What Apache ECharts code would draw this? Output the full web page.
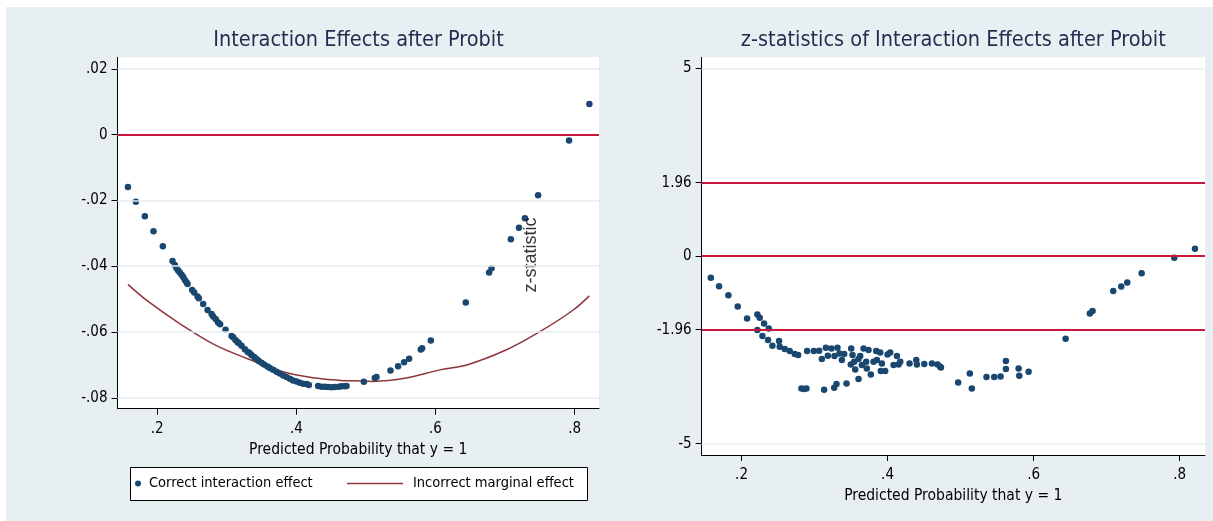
<!DOCTYPE html>
<html><head><meta charset="utf-8">
<script src="https://cdn.jsdelivr.net/npm/echarts@6/dist/echarts.min.js"></script>
<style>
html,body{margin:0;padding:0;background:#fff;}
#wrap{position:relative;width:1213px;height:521px;overflow:hidden;}
#bg{position:absolute;left:6px;top:7px;right:0;bottom:0;background:#e8eff2;}
#c{position:absolute;left:0;top:0;width:1213px;height:521px;}
</style></head>
<body><div id="wrap"><div id="bg"></div><div id="c"></div></div>
<script>
// ---------- data ----------
const effectX = [0.158,0.1694,0.1823,0.1948,0.2082,0.2221,
0.2254,0.2279,0.2302,0.2326,0.2351,0.2374,0.2398,0.2422,0.2437,0.2503,0.2532,0.258,0.2599,0.2661,0.2724,0.2782,0.2805,0.2843,0.2876,0.2905,0.2983,0.3069,0.3092,0.3126,0.3155,0.3174,0.3213,0.326,0.3299,0.3328,0.3356,0.3394,0.3428,0.3461,0.35,0.3537,0.3586,0.3619,0.3667,0.3716,0.3763,0.3811,0.3859,0.3907,0.3954,0.4003,0.405,0.4098,0.4147,0.418,
0.4313,0.4362,0.441,0.4457,0.4506,0.4553,0.4611,0.465,0.4697,0.4721,
0.497,0.5128,0.5152,0.5353,0.5463,0.5549,0.5621,0.5789,0.5808,0.5933,0.6435,0.6771,0.6806,0.7083,0.72,0.7285,0.7475,0.792,0.8212];
const effectY = [-0.0159,-0.0204,-0.0248,-0.0294,-0.0339,-0.0384,
-0.0396,-0.0406,-0.0413,-0.0419,-0.0426,-0.0433,-0.0442,-0.0449,-0.0454,-0.0472,-0.048,-0.0492,-0.0497,-0.0515,-0.0533,-0.0545,-0.0553,-0.0561,-0.0571,-0.0576,-0.0593,-0.0612,-0.0616,-0.0624,-0.063,-0.0634,-0.0642,-0.0652,-0.066,-0.0664,-0.067,-0.0676,-0.0682,-0.0688,-0.0693,-0.0699,-0.0705,-0.0709,-0.0715,-0.0721,-0.0726,-0.0732,-0.0737,-0.0742,-0.0747,-0.075,-0.0754,-0.0757,-0.0758,-0.0761,
-0.0764,-0.0766,-0.0766,-0.0767,-0.0768,-0.0767,-0.0766,-0.0765,-0.0765,-0.0764,
-0.0751,-0.074,-0.0737,-0.0717,-0.0704,-0.0692,-0.0681,-0.0653,-0.0649,-0.0626,-0.051,-0.0419,-0.0406,-0.0318,-0.0283,-0.0254,-0.0184,-0.0018,0.0093];

const marginalX = [0.158,0.187,0.235,0.283,0.331,0.379,0.427,0.4625,0.484,0.51,0.558,0.606,0.645,0.702,0.75,0.798,0.821];
const marginalY = [-0.0455,-0.0507,-0.0578,-0.0639,-0.0682,-0.072,-0.074,-0.0747,-0.0748,-0.075,-0.074,-0.0715,-0.070,-0.0654,-0.0599,-0.0533,-0.049];

const zX = [0.1579,0.1692,0.182,0.1948,0.2076,0.2217,0.2249,0.2309,0.2373,0.2217,0.2286,0.2363,0.2423,0.2514,0.2523,0.2592,0.266,0.2729,0.2775,0.2898,0.299,0.3063,0.3155,0.3232,0.3314,0.31,0.3182,0.3273,0.3342,0.3406,0.3374,0.3502,0.352,0.3497,0.3543,0.3557,0.3602,0.3625,0.3648,0.3671,0.3707,0.3716,0.3739,0.3771,0.3808,0.3845,0.3854,0.3899,0.3922,0.3908,0.3968,0.4,0.4036,0.4128,0.4082,0.4151,0.4174,0.4301,0.4393,0.4402,0.4503,0.4608,0.4686,0.4731,0.282,0.2852,0.2889,0.3131,0.3269,0.3301,0.3438,0.3602,
0.4721,0.4967,0.5127,0.5154,0.5355,0.5461,0.5548,0.5621,0.5621,0.5795,0.5804,0.5932,0.6439,0.6771,0.6808,0.7091,0.7201,0.7283,0.748,0.7927,0.8211];
const zY = [-0.577,-0.799,-1.039,-1.34,-1.66,-1.553,-1.643,-1.793,-1.926,-1.971,-2.131,-2.238,-2.389,-2.264,-2.416,-2.477,-2.531,-2.611,-2.637,-2.531,-2.531,-2.522,-2.442,-2.46,-2.442,-2.744,-2.655,-2.664,-2.593,-2.611,-2.77,-2.46,-2.637,-2.886,-2.815,-3.019,-2.744,-2.664,-2.904,-2.46,-2.815,-2.993,-2.504,-3.152,-2.815,-2.531,-2.77,-2.566,-2.86,-3.063,-3.063,-2.62,-2.566,-2.664,-2.904,-2.886,-2.815,-2.86,-2.77,-2.886,-2.877,-2.86,-2.886,-2.966,-3.525,-3.543,-3.525,-3.561,-3.508,-3.41,-3.392,-3.277,
-2.948,-3.365,-3.125,-3.525,-3.223,-3.223,-3.205,-2.797,-3.01,-2.992,-3.188,-3.081,-2.202,-1.527,-1.465,-0.932,-0.808,-0.701,-0.453,-0.044,0.195];

const xTicks = [0.2,0.4,0.6,0.8];
const xTickLabels = ['.2','.4','.6','.8'];
const yTicksLeft = [-0.08,-0.06,-0.04,-0.02,0,0.02];
const yTickLabelsLeft = ['-.08','-.06','-.04','-.02','0','.02'];
const yTicksRight = [-5,-1.96,0,1.96,5];
const yTickLabelsRight = ['-5','-1.96','0','1.96','5'];
const refLinesLeft = [0];
const refLinesRight = [-1.96,0,1.96];
const gridLinesRight = [-5,5];

const titles = ['Interaction Effects after Probit','z-statistics of Interaction Effects after Probit'];
const xTitle = 'Predicted Probability that y = 1';
const legendNames = ['Correct interaction effect','Incorrect marginal effect'];
const annotation = {text:'z-statistic', x:0.738, y:-0.0366};

// ---------- styling ----------
const NARROW = "'Liberation Sans Narrow','DejaVu Sans Condensed','Arial Narrow',sans-serif";
const REG = "'Liberation Sans',Arial,sans-serif";
const NAVY = '#1a476f', MAROON = '#90353b', RED = '#c8193c', GRIDC = '#e4ecf0';
const zip = (a,b)=>a.map((v,i)=>[v,b[i]]);
const fmt = (ticks,labels)=>v=>{const i=ticks.findIndex(t=>Math.abs(t-v)<1e-9);return i<0?'':labels[i];};

function xAxisCfg(gi,min,max){
  return {gridIndex:gi,type:'value',min:min,max:max,
    axisLine:{show:true,onZero:false,lineStyle:{color:'#000',width:1}},
    axisTick:{show:true,length:6,customValues:xTicks,lineStyle:{color:'#000'}},
    axisLabel:{customValues:xTicks,formatter:fmt(xTicks,xTickLabels),fontSize:15,color:'#000',margin:13,fontFamily:NARROW},
    splitLine:{show:false},
    name:xTitle,nameLocation:'middle',nameGap:30,
    nameTextStyle:{fontSize:15.5,color:'#000',fontFamily:NARROW,verticalAlign:'top'}};
}
function yAxisCfg(gi,min,max,ticks,labels){
  return {gridIndex:gi,type:'value',min:min,max:max,
    axisLine:{show:true,onZero:false,lineStyle:{color:'#000',width:1}},
    axisTick:{show:true,length:6,customValues:ticks,lineStyle:{color:'#000'}},
    axisLabel:{customValues:ticks,formatter:fmt(ticks,labels),fontSize:15,color:'#000',margin:10,fontFamily:NARROW},
    splitLine:{show:false}};
}
function hLines(vals,color,width){return vals.map(v=>({yAxis:v,lineStyle:{color:color,width:width,type:'solid'}}));}

const option = {
  animation:false,
  backgroundColor:'transparent',
  title:[
    {text:titles[0],left:358.5,textAlign:'center',top:29,padding:0,
     textStyle:{fontSize:21.5,fontWeight:'normal',color:'#1f2d4f',fontFamily:NARROW}},
    {text:titles[1],left:953.3,textAlign:'center',top:29,padding:0,
     textStyle:{fontSize:21.5,fontWeight:'normal',color:'#1f2d4f',fontFamily:NARROW}}
  ],
  graphic:[{type:'rect',shape:{x:130.5,y:467.5,width:457,height:33},style:{fill:'#fff',stroke:'#000',lineWidth:1},z:0,silent:true}],
  legend:[
    {data:[{name:legendNames[0],icon:'circle'}],left:135,top:476,itemWidth:12,itemHeight:6,padding:0,selectedMode:false,
     itemStyle:{color:NAVY},textStyle:{fontSize:14.5,color:'#000',fontFamily:NARROW}},
    {data:[{name:legendNames[1],icon:'rect'}],left:347,top:476,itemWidth:56,itemHeight:1.6,padding:0,selectedMode:false,
     itemStyle:{color:MAROON},textStyle:{fontSize:14.5,color:'#000',fontFamily:NARROW,padding:[0,0,0,5]}}
  ],
  grid:[
    {left:117.5,top:57.3,width:481.5,height:351.4,show:true,backgroundColor:'#fff',borderWidth:0},
    {left:701.6,top:57.3,width:503.4,height:397.7,show:true,backgroundColor:'#fff',borderWidth:0}
  ],
  xAxis:[xAxisCfg(0,0.143,0.835),xAxisCfg(1,0.1453,0.8348)],
  yAxis:[yAxisCfg(0,-0.0833,0.0235,yTicksLeft,yTickLabelsLeft),yAxisCfg(1,-5.3,5.3,yTicksRight,yTickLabelsRight)],
  series:[
    {type:'line',xAxisIndex:0,yAxisIndex:0,data:[],z:1,silent:true,
     markLine:{silent:true,symbol:'none',label:{show:false},animation:false,
       data:hLines(yTicksLeft,GRIDC,1.5).concat(hLines(refLinesLeft,RED,2))}},
    {type:'line',xAxisIndex:1,yAxisIndex:1,data:[],z:1,silent:true,
     markLine:{silent:true,symbol:'none',label:{show:false},animation:false,
       data:hLines(gridLinesRight,GRIDC,1.5).concat(hLines(refLinesRight,RED,2))}},
    {name:legendNames[1],type:'line',xAxisIndex:0,yAxisIndex:0,data:zip(marginalX,marginalY),
     symbol:'none',smooth:0.35,lineStyle:{color:MAROON,width:1.5},itemStyle:{color:MAROON},z:2},
    {name:legendNames[0],type:'scatter',xAxisIndex:0,yAxisIndex:0,data:zip(effectX,effectY),
     symbol:'circle',symbolSize:6.5,itemStyle:{color:NAVY,opacity:1},z:3},
    {name:'z',type:'scatter',xAxisIndex:1,yAxisIndex:1,data:zip(zX,zY),
     symbol:'circle',symbolSize:6.5,itemStyle:{color:NAVY,opacity:1},z:3},
    {name:'annotation',type:'scatter',xAxisIndex:0,yAxisIndex:0,data:[[annotation.x,annotation.y]],
     symbolSize:1,itemStyle:{color:'rgba(0,0,0,0)'},z:4,silent:true,
     label:{show:true,position:'inside',rotate:90,formatter:annotation.text,fontSize:18,color:'#000',fontFamily:REG}}
  ]
};
const chart = echarts.init(document.getElementById('c'),null,{renderer:'canvas'});
chart.setOption(option);
</script></body></html>
